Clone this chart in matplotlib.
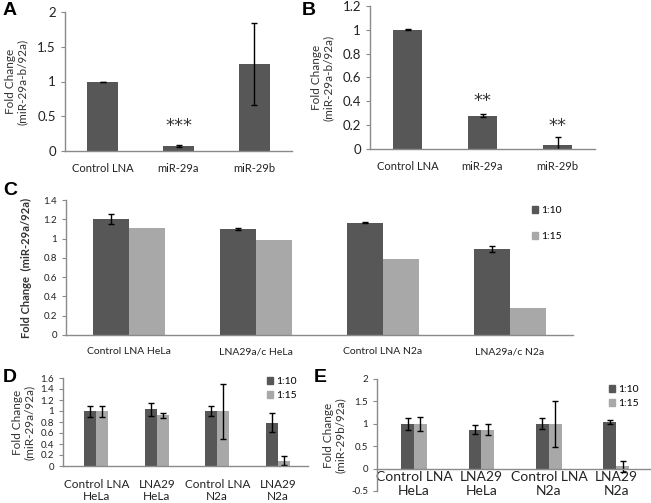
import matplotlib
matplotlib.use("Agg")
import matplotlib.pyplot as plt
from matplotlib.patches import Patch
import numpy as np

plt.rcParams['font.family'] = ['Lato', 'DejaVu Sans']

W, H = 651, 503
DARK = '#575757'
LIGHT = '#a8a8a8'
AXC = '#8a8a8a'

# ---------------- data ----------------
a_cats = ['Control LNA', 'miR-29a', 'miR-29b']
a_vals = [0.995, 0.072, 1.245]
a_errs = [0.004, 0.01, 0.59]
a_sig = ['', '***', '']

b_cats = ['Control LNA', 'miR-29a', 'miR-29b']
b_vals = [1.0, 0.28, 0.036]
b_errs = [0.003, 0.014, 0.064]
b_sig = ['', '**', '**']

c_cats = ['Control LNA HeLa', 'LNA29a/c HeLa', 'Control LNA N2a', 'LNA29a/c N2a']
c_110 = [1.2, 1.10, 1.164, 0.893]
c_110_err = [0.05, 0.01, 0.004, 0.03]
c_115 = [1.11, 0.985, 0.785, 0.278]

d_cats = ['Control LNA\nHeLa', 'LNA29\nHeLa', 'Control LNA\nN2a', 'LNA29\nN2a']
d_110 = [1.0, 1.03, 1.0, 0.79]
d_110_err = [0.1, 0.115, 0.085, 0.17]
d_115 = [1.0, 0.92, 1.0, 0.1]
d_115_err = [0.1, 0.045, 0.5, 0.085]

e_cats = ['Control LNA\nHeLa', 'LNA29\nHeLa', 'Control LNA\nN2a', 'LNA29\nN2a']
e_110 = [1.0, 0.87, 1.0, 1.04]
e_110_err = [0.14, 0.095, 0.12, 0.04]
e_115 = [1.0, 0.87, 1.0, 0.05]
e_115_err = [0.15, 0.13, 0.51, 0.13]

series_labels = ['1:10', '1:15']

fig = plt.figure(figsize=(W / 100, H / 100), dpi=100)


def ax_px(left, top, right, bottom):
    return fig.add_axes([left / W, 1 - bottom / H, (right - left) / W, (bottom - top) / H])


def style(ax, ysize):
    for s in ['top', 'right']:
        ax.spines[s].set_visible(False)
    for s in ['left', 'bottom']:
        ax.spines[s].set_color(AXC)
        ax.spines[s].set_linewidth(1.0)
    ax.tick_params(axis='y', colors=AXC, length=3, width=0.8, labelsize=ysize, labelcolor='#222222')
    ax.tick_params(axis='x', length=0, labelcolor='#222222')


def fmt(v):
    s = ('%.1f' % v)
    if s.endswith('.0'):
        s = s[:-2]
    return s


ekw = dict(ecolor='black', elinewidth=1.0, capsize=2.5, capthick=1.0)

# ---------------- A ----------------
axA = ax_px(65, 12, 292, 151)
x = np.arange(len(a_cats))
axA.bar(x, a_vals, width=0.41, color=DARK, yerr=a_errs, error_kw=ekw)
axA.set_xlim(-0.5, 2.5)
axA.set_ylim(0, 2)
yt = [0, 0.5, 1, 1.5, 2]
axA.set_yticks(yt)
axA.set_yticklabels([fmt(v) for v in yt])
axA.set_xticks(x)
axA.set_xticklabels(a_cats, fontsize=8)
style(axA, 9.5)
axA.tick_params(axis='x', pad=9)
for i, s in enumerate(a_sig):
    if s:
        axA.text(x[i], 0.36, s, ha='center', va='center', fontsize=13, family='DejaVu Sans', color='#333333')
axA.set_ylabel('Fold Change\n(miR-29a-b/92a)', fontsize=8.5, labelpad=7, linespacing=1.1, color='#333333')

# ---------------- B ----------------
axB = ax_px(370, 6, 595, 149)
x = np.arange(len(b_cats))
axB.bar(x, b_vals, width=0.38, color=DARK, yerr=b_errs, error_kw=ekw)
axB.set_xlim(-0.5, 2.5)
axB.set_ylim(0, 1.2)
yt = [0, 0.2, 0.4, 0.6, 0.8, 1.0, 1.2]
axB.set_yticks(yt)
axB.set_yticklabels([fmt(v) for v in yt])
axB.set_xticks(x)
axB.set_xticklabels(b_cats, fontsize=8)
style(axB, 9.5)
axB.tick_params(axis='x', pad=9)
sig_y = [0, 0.40, 0.195]
for i, s in enumerate(b_sig):
    if s:
        axB.text(x[i], sig_y[i], s, ha='center', va='center', fontsize=13, family='DejaVu Sans', color='#333333')
axB.set_ylabel('Fold Change\n(miR-29a-b/92a)', fontsize=8.5, labelpad=6, linespacing=1.1, color='#333333')

# ---------------- C ----------------
axC = ax_px(66, 200, 573, 335)
x = np.arange(len(c_cats))
bw = 0.285
axC.bar(x - bw / 2, c_110, width=bw, color=DARK, yerr=c_110_err, error_kw=ekw, label=series_labels[0])
axC.bar(x + bw / 2, c_115, width=bw, color=LIGHT, label=series_labels[1])
axC.set_xlim(-0.5, 3.5)
axC.set_ylim(0, 1.4)
yt = [0, 0.2, 0.4, 0.6, 0.8, 1.0, 1.2, 1.4]
axC.set_yticks(yt)
axC.set_yticklabels([fmt(v) for v in yt])
axC.set_xticks(x)
axC.set_xticklabels(c_cats, fontsize=7.5)
style(axC, 7)
axC.tick_params(axis='x', pad=9)
axC.set_ylabel('Fold Change  (miR-29a/92a)', fontsize=8, fontweight='bold', labelpad=8, color='#333333')
handles = [Patch(color=DARK), Patch(color=LIGHT)]
fig.legend(handles, series_labels, loc='upper left', bbox_to_anchor=(527 / W, 1 - 201 / H),
           frameon=False, fontsize=7.5, handlelength=0.6, handleheight=0.6, handletextpad=0.25,
           labelspacing=1.6, borderpad=0)

# ---------------- D ----------------
axD = ax_px(63, 378, 308, 466)
x = np.arange(len(d_cats))
bw = 0.2
axD.bar(x - bw / 2, d_110, width=bw, color=DARK, yerr=d_110_err, error_kw=ekw)
axD.bar(x + bw / 2, d_115, width=bw, color=LIGHT, yerr=d_115_err, error_kw=ekw)
axD.set_xlim(-0.55, 3.5)
axD.set_ylim(0, 1.6)
yt = [0, 0.2, 0.4, 0.6, 0.8, 1.0, 1.2, 1.4, 1.6]
axD.set_yticks(yt)
axD.set_yticklabels([fmt(v) for v in yt])
axD.set_xticks(x)
axD.set_xticklabels(d_cats, fontsize=8.5, linespacing=1.2)
style(axD, 7)
axD.tick_params(axis='x', pad=9)
axD.set_ylabel('Fold Change\n(miR-29a/92a)', fontsize=8.5, labelpad=4, linespacing=1.1, color='#333333')
fig.legend(handles, series_labels, loc='upper left', bbox_to_anchor=(262 / W, 1 - 372 / H),
           frameon=False, fontsize=7.5, handlelength=0.6, handleheight=0.6, handletextpad=0.3,
           labelspacing=0.45, borderpad=0)

# ---------------- E ----------------
axE = ax_px(377, 379, 650, 491)
x = np.arange(len(e_cats))
bw = 0.19
axE.bar(x - bw / 2, e_110, width=bw, color=DARK, yerr=e_110_err, error_kw=ekw)
axE.bar(x + bw / 2, e_115, width=bw, color=LIGHT, yerr=e_115_err, error_kw=ekw)
axE.set_xlim(-0.55, 3.5)
axE.set_ylim(-0.5, 2)
yt = [-0.5, 0, 0.5, 1.0, 1.5, 2.0]
axE.set_yticks(yt)
axE.set_yticklabels([fmt(v) for v in yt])
axE.set_xticks(x)
axE.set_xticklabels(e_cats, fontsize=8.5, linespacing=1.35)
style(axE, 7)
axE.spines['bottom'].set_position(('data', 0))
axE.tick_params(axis='x', pad=2)
axE.set_ylabel('Fold Change\n(miR-29b/92a)', fontsize=8.5, labelpad=4, linespacing=1.1, color='#333333')
fig.legend(handles, series_labels, loc='upper left', bbox_to_anchor=(604 / W, 1 - 380 / H),
           frameon=False, fontsize=7.5, handlelength=0.6, handleheight=0.6, handletextpad=0.3,
           labelspacing=0.45, borderpad=0)

# ---------------- panel letters ----------------
for lab, px, py in [('A', 3, 2), ('B', 302, 2), ('C', 3, 182), ('D', 3, 369), ('E', 314, 369)]:
    fig.text(px / W, 1 - py / H, lab, fontsize=14, fontweight='bold', family='Liberation Sans',
             ha='left', va='top')

fig.savefig('out.png', dpi=100)
